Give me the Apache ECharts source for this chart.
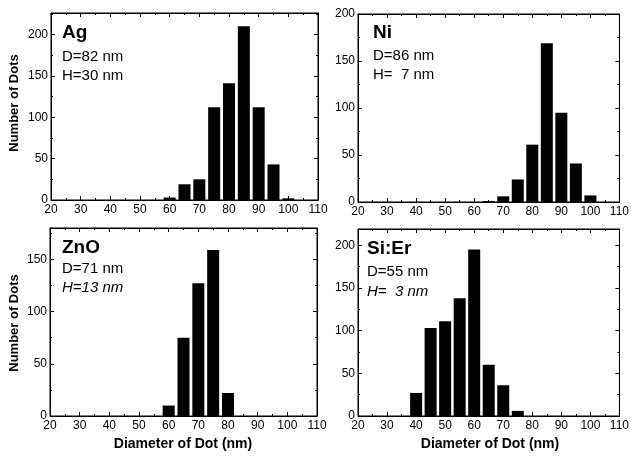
<!DOCTYPE html>
<html><head><meta charset="utf-8">
<script src="https://cdn.jsdelivr.net/npm/echarts@6/dist/echarts.min.js"></script>
<style>html,body{margin:0;padding:0;background:#fff}#c{width:632px;height:459px}</style>
</head><body><div id="c"></div>
<script>
// Data
const xTickLabels = [20,30,40,50,60,70,80,90,100,110];
const agX = [60,65,70,75,80,85,90,95,100];
const agY = [3,19,25,112,141,210,112,43,2];
const niX = [65,70,75,80,85,90,95,100];
const niY = [1,6,24,61,169,95,41,7];
const znoX = [60,65,70,75,80];
const znoY = [10,75,127,159,22];
const sierX = [40,45,50,55,60,65,70,75];
const sierY = [27,103,111,138,195,60,36,6];
const yMaxes = [226, 200, 180, 219];
const panelNames = ['Ag','Ni','ZnO','Si:Er'];
const panelD = ['D=82 nm','D=86 nm','D=71 nm','D=55 nm'];
const panelH = ['H=30 nm','H=  7 nm','H=13 nm','H=  3 nm'];
const xTitle = 'Diameter of Dot (nm)';
const yTitle = 'Number of Dots';

const FONT = 'Liberation Sans, Arial, sans-serif';
const grids = [
  {left:51, top:13, width:267, height:187},
  {left:358, top:14, width:267, height:188},
  {left:50, top:228, width:267, height:188},
  {left:358, top:229, width:267, height:187}
].map(g => Object.assign(g, {show: true, borderColor: '#000', borderWidth: 1, backgroundColor: 'transparent'}));
const xs = [agX, niX, znoX, sierX];
const ys = [agY, niY, znoY, sierY];

const xAxis = [], yAxis = [], series = [];
grids.forEach((g, i) => {
  const common = () => ({
    gridIndex: i, type: 'value',
    axisLine: {show: true, onZero: false, lineStyle: {color: '#000', width: 1}},
    splitLine: {show: false},
    axisTick: {show: true, inside: true, length: 4, lineStyle: {color: '#000'}},
    minorTick: {show: true, splitNumber: 2, length: 2, lineStyle: {color: '#000'}}
  });
  xAxis.push(Object.assign(common(), {
    min: 20, max: 110, interval: 10, position: 'bottom',
    axisLabel: {color: '#000', fontSize: 12, fontFamily: FONT, margin: 4,
      formatter: v => xTickLabels.includes(v) ? String(v) : ''}
  }));
  xAxis.push(Object.assign(common(), {
    min: 20, max: 110, interval: 10, position: 'top',
    axisLabel: {show: false}
  }));
  yAxis.push(Object.assign(common(), {
    min: 0, max: yMaxes[i], interval: 50, position: 'left',
    axisLabel: {color: '#000', fontSize: 12, fontFamily: FONT, margin: 3,
      formatter: v => (v % 50 === 0) ? String(v) : ''}
  }));
  yAxis.push(Object.assign(common(), {
    min: 0, max: yMaxes[i], interval: 50, position: 'right',
    axisLabel: {show: false}
  }));
  series.push({
    type: 'bar', xAxisIndex: 2*i, yAxisIndex: 2*i,
    data: xs[i].map((x, k) => [x, ys[i][k]]),
    barWidth: 12, itemStyle: {color: '#000'}, silent: true, animation: false, z: 3
  });
  series.push({
    type: 'scatter', xAxisIndex: 2*i+1, yAxisIndex: 2*i+1,
    data: [], silent: true
  });
});

const graphic = [];
const textPos = [
  {x:62, y:[33,57,76]},
  {x:373, y:[33,56,75]},
  {x:62, y:[248,269,288]},
  {x:367, y:[249,272,292]}
];
textPos.forEach((p, i) => {
  graphic.push({type:'text', style:{text: panelNames[i], x:p.x, y:p.y[0], font:'bold 19px '+FONT, fill:'#000', verticalAlign:'middle', textVerticalAlign:'middle'}});
  graphic.push({type:'text', style:{text: panelD[i], x:p.x, y:p.y[1], font:'15px '+FONT, fill:'#000', verticalAlign:'middle', textVerticalAlign:'middle'}});
  graphic.push({type:'text', style:{text: panelH[i], x:p.x, y:p.y[2], font:(i>=2?'italic ':'')+'15px '+FONT, fill:'#000', verticalAlign:'middle', textVerticalAlign:'middle'}});
});
[103, 323].forEach(cy => {
  graphic.push({type:'text', x:14, y:cy, rotation: Math.PI/2,
    style:{text: yTitle, x:0, y:0, font:'bold 13px '+FONT, fill:'#000', align:'center', textAlign:'center', verticalAlign:'middle', textVerticalAlign:'middle'}});
});
[183, 490].forEach(cx => {
  graphic.push({type:'text', style:{text: xTitle, x:cx, y:444, font:'bold 14px '+FONT, fill:'#000', align:'center', textAlign:'center', verticalAlign:'middle', textVerticalAlign:'middle'}});
});

const chart = echarts.init(document.getElementById('c'), null, {renderer:'canvas'});
chart.setOption({
  animation: false,
  backgroundColor: '#fff',
  grid: grids,
  xAxis, yAxis, series, graphic
});
</script></body></html>
